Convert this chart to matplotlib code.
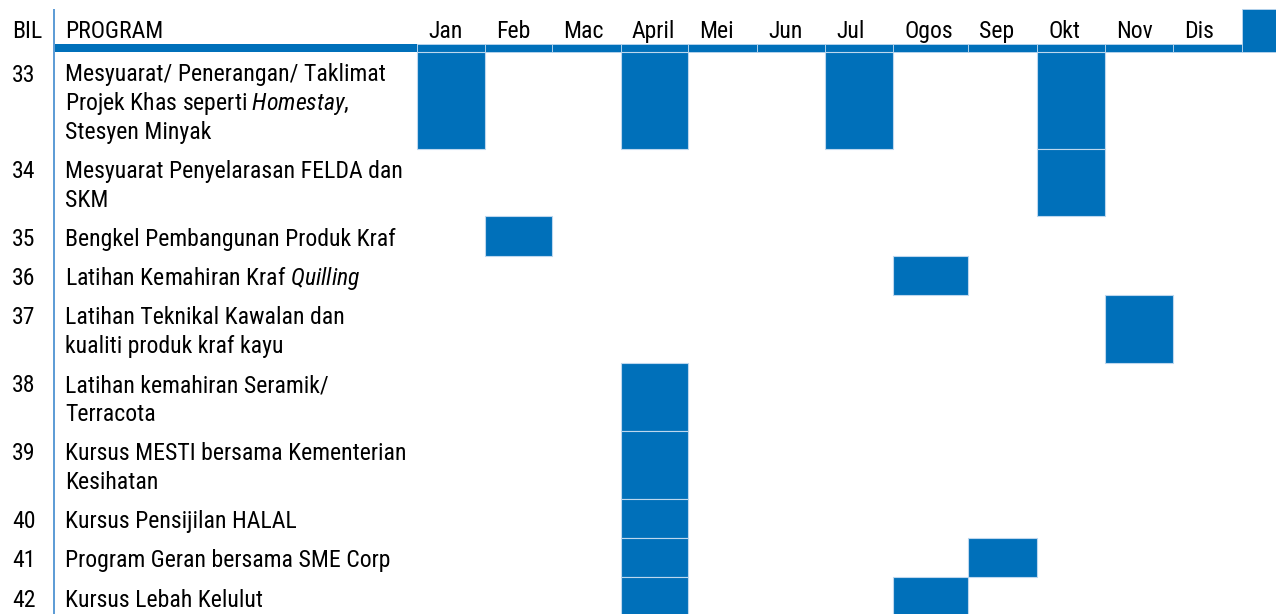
import matplotlib
matplotlib.use("Agg")
import matplotlib.pyplot as plt

# ---------------- data ----------------
months = ["Jan", "Feb", "Mac", "April", "Mei", "Jun", "Jul", "Ogos", "Sep", "Okt", "Nov", "Dis"]
bil = [33, 34, 35, 36, 37, 38, 39, 40, 41, 42]
programs = [
    ["Mesyuarat/ Penerangan/ Taklimat", r"Projek Khas seperti $\mathit{Homestay}$,", "Stesyen Minyak"],
    ["Mesyuarat Penyelarasan FELDA dan", "SKM"],
    ["Bengkel Pembangunan Produk Kraf"],
    [r"Latihan Kemahiran Kraf $\mathit{Quilling}$"],
    ["Latihan Teknikal Kawalan dan", "kualiti produk kraf kayu"],
    ["Latihan kemahiran Seramik/", "Terracota"],
    ["Kursus MESTI bersama Kementerian", "Kesihatan"],
    ["Kursus Pensijilan HALAL"],
    ["Program Geran bersama SME Corp"],
    ["Kursus Lebah Kelulut"],
]
schedule = [
    ["Jan", "April", "Jul", "Okt"],
    ["Okt"],
    ["Feb"],
    ["Ogos"],
    ["Nov"],
    ["April"],
    ["April"],
    ["April"],
    ["April", "Sep"],
    ["April", "Ogos"],
]
header_bil = "BIL"
header_prog = "PROGRAM"

# ---------------- style / layout ----------------
plt.rcParams["font.family"] = ["Roboto Condensed", "DejaVu Sans"]
plt.rcParams["mathtext.fontset"] = "custom"
plt.rcParams["mathtext.rm"] = "Roboto Condensed"
plt.rcParams["mathtext.it"] = "Roboto Condensed:italic"

BLUE = "#0070BA"
VLINE = "#5B9BD5"
EDGE = "#BDD7EE"
TXT = "#000000"
FS = 17.1

W, H = 1276, 614
# column boundaries of the month grid (pixels from left), last one = start of the extra column
COL_EDGES = [417, 485, 552, 621, 688, 757, 825, 893, 968, 1037, 1105, 1173, 1242]
LINE_H = 28.6
PAD = 10.7
BAND_TOP, BAND_BOT = 44.0, 52.0
EXTRA_TOP = 9.0
VLINE_X = 54.0
NUM_X = 12.0
PROG_X = 65.0
MONTH_PAD = 11.0
CAP = 16.7

fig = plt.figure(figsize=(W / 100, H / 100), dpi=100)
ax = fig.add_axes([0, 0, 1, 1])
ax.set_xlim(0, W)
ax.set_ylim(H, 0)
ax.axis("off")


def col_left(i):
    return COL_EDGES[i]


def col_width(i):
    return COL_EDGES[i + 1] - COL_EDGES[i]


# header band (left part) and vertical separator line
ax.fill_between([VLINE_X + 1, COL_EDGES[0]], BAND_TOP, BAND_BOT, color=BLUE, lw=0)
ax.plot([VLINE_X, VLINE_X], [EXTRA_TOP, H], color=VLINE, lw=1.4, solid_capstyle="butt")

# header cells in month columns + extra filled column
n_m = len(months)
ax.bar([col_left(i) for i in range(n_m)], BAND_BOT - BAND_TOP, bottom=BAND_TOP,
       width=[col_width(i) for i in range(n_m)], align="edge",
       color=BLUE, edgecolor=EDGE, linewidth=0.6, zorder=2)
ax.bar([COL_EDGES[-1]], BAND_BOT - EXTRA_TOP, bottom=EXTRA_TOP, width=W - COL_EDGES[-1] + 20,
       align="edge", color=BLUE, edgecolor=EDGE, linewidth=0.6, zorder=2)

# header texts
HEAD_BASE = 38.0
ax.text(NUM_X, HEAD_BASE, header_bil, fontsize=FS, color=TXT, ha="left", va="baseline")
ax.text(PROG_X, HEAD_BASE, header_prog, fontsize=FS, color=TXT, ha="left", va="baseline")
for i, m in enumerate(months):
    ax.text(col_left(i) + MONTH_PAD, HEAD_BASE, m, fontsize=FS, color=TXT,
            ha="left", va="baseline")

# rows
top = BAND_BOT
for num, lines, sched in zip(bil, programs, schedule):
    n = len(lines)
    h = n * LINE_H + PAD
    base0 = top + (h - (n - 1) * LINE_H) / 2 + CAP / 2 + 1.5
    ax.text(NUM_X, base0, str(num), fontsize=FS, color=TXT, ha="left", va="baseline")
    for k, ln in enumerate(lines):
        ax.text(PROG_X, base0 + k * LINE_H, ln, fontsize=FS, color=TXT, ha="left", va="baseline")
    idx = [months.index(m) for m in sched]
    ax.bar([col_left(i) for i in idx], h, bottom=top, width=[col_width(i) for i in idx],
           align="edge", color=BLUE, edgecolor=EDGE, linewidth=0.8, zorder=2)
    top += h

fig.savefig("out.png", dpi=100)
